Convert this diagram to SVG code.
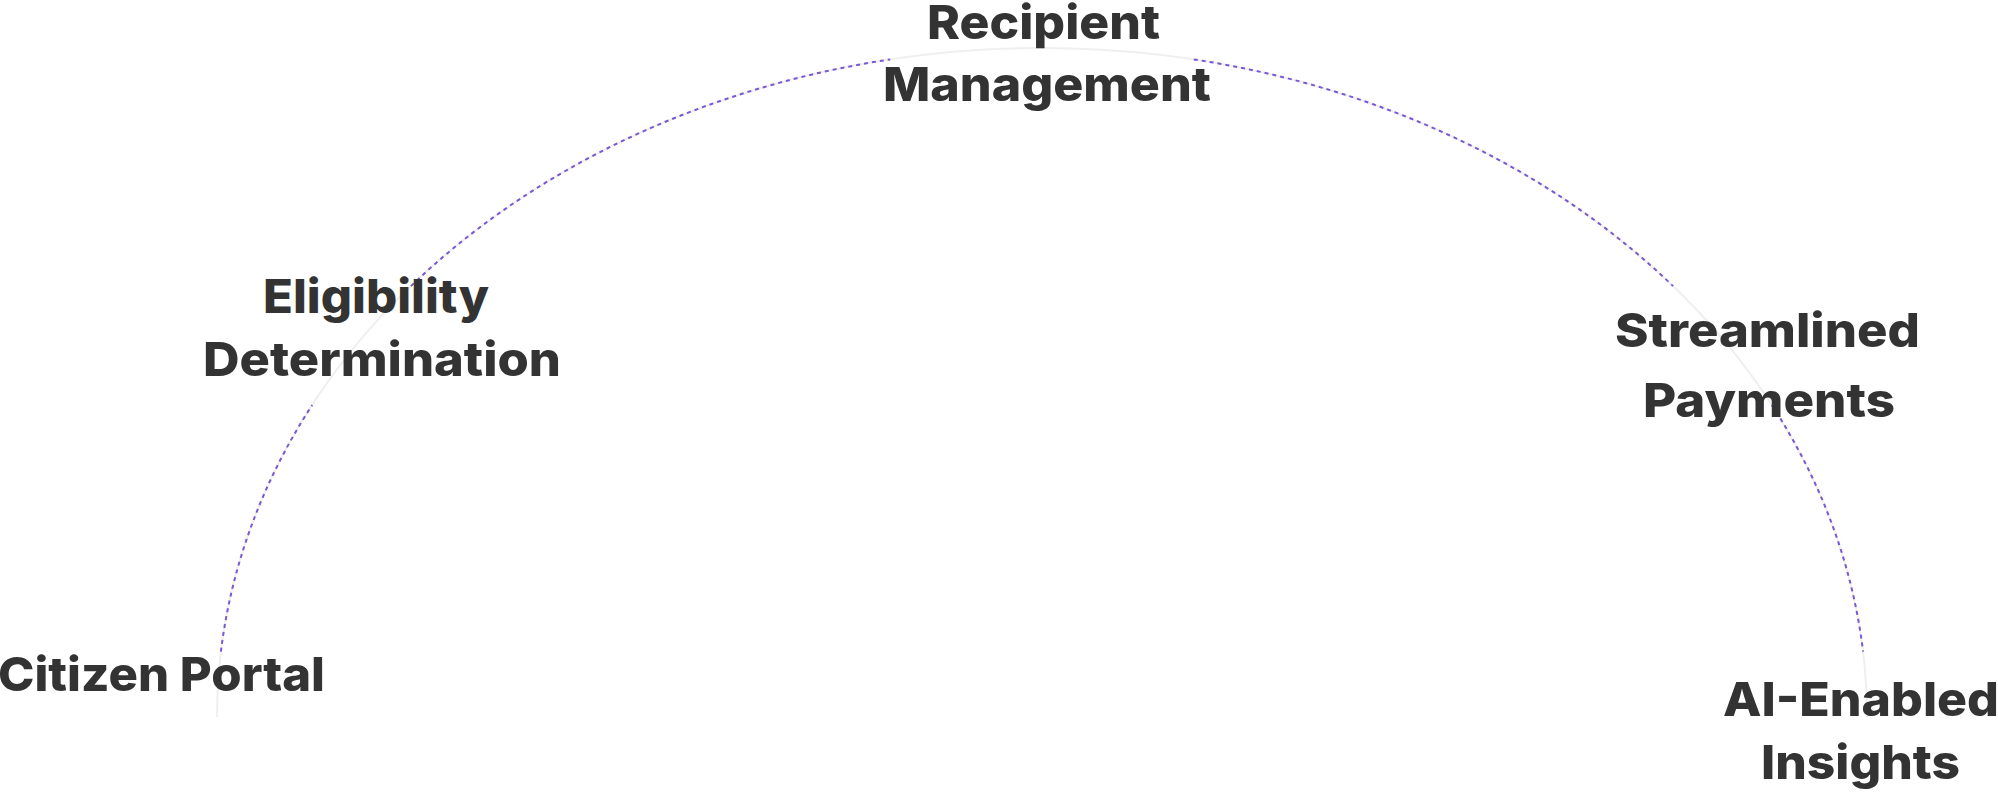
<svg xmlns="http://www.w3.org/2000/svg" width="1998" height="793" viewBox="0 0 1998 793">
  <style>
    .lbl { font-family: "Inter", "Liberation Sans", sans-serif; font-weight: 800; font-size: 47px; fill: #333333; }
    .mid { text-anchor: middle; }
    .track { fill: none; stroke: #efefef; stroke-width: 2; }
    .flow { fill: none; stroke: #7a58d2; stroke-width: 2; stroke-dasharray: 4 4; }
  </style>
  <rect width="1998" height="793" fill="#ffffff"/>
  <g id="connectors">
    <path class="track" d="M217,717 A825,669 0 0 1 1867,717"/>
    <path class="flow" d="M220.9,651.7 A825,669 0 0 1 312.2,405"/>
    <path class="flow" d="M410.9,286.1 A825,669 0 0 1 890.2,59.4"/>
    <path class="flow" d="M1193.8,59.4 A825,669 0 0 1 1673.1,286.1"/>
    <path class="flow" d="M1771.8,405 A825,669 0 0 1 1863.1,651.7"/>
  </g>
  <g id="citizen-portal">
    <text class="lbl" x="-2" y="691" textLength="327" lengthAdjust="spacingAndGlyphs">Citizen Portal</text>
  </g>
  <g id="eligibility-determination">
    <text class="lbl mid" x="376" y="313" textLength="226" lengthAdjust="spacingAndGlyphs">Eligibility</text>
    <text class="lbl mid" x="382" y="376" textLength="358" lengthAdjust="spacingAndGlyphs">Determination</text>
  </g>
  <g id="recipient-management">
    <text class="lbl mid" x="1043.5" y="39" textLength="233" lengthAdjust="spacingAndGlyphs">Recipient</text>
    <text class="lbl mid" x="1047" y="101" textLength="328" lengthAdjust="spacingAndGlyphs">Management</text>
  </g>
  <g id="streamlined-payments">
    <text class="lbl mid" x="1767.5" y="347" textLength="305" lengthAdjust="spacingAndGlyphs">Streamlined</text>
    <text class="lbl mid" x="1769" y="417" textLength="252" lengthAdjust="spacingAndGlyphs">Payments</text>
  </g>
  <g id="ai-enabled-insights">
    <text class="lbl mid" x="1861" y="716" textLength="276" lengthAdjust="spacingAndGlyphs">AI-Enabled</text>
    <text class="lbl mid" x="1860.5" y="779" textLength="199" lengthAdjust="spacingAndGlyphs">Insights</text>
  </g>
</svg>
